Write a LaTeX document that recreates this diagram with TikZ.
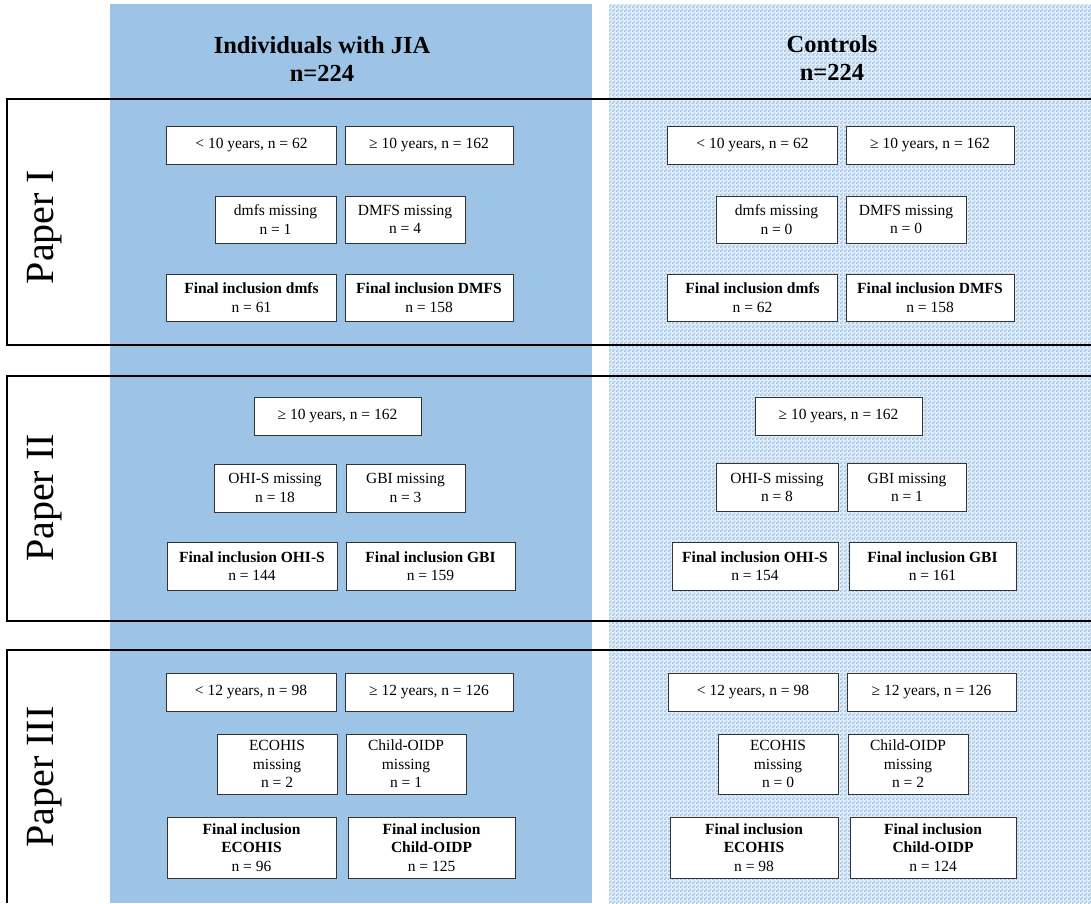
\documentclass[tikz,border=0pt]{standalone}
\usepackage{fontspec}
\setmainfont{Liberation Serif}
\usetikzlibrary{patterns}

\definecolor{jiablue}{HTML}{9DC3E6}
\definecolor{ctrldot}{HTML}{9FC4EA}
\pgfdeclarepatternformonly{ctrlchecker}{\pgfpointorigin}{\pgfqpoint{4pt}{4pt}}{\pgfqpoint{4pt}{4pt}}{%
  \pgfpathrectangle{\pgfpointorigin}{\pgfqpoint{2pt}{2pt}}%
  \pgfpathrectangle{\pgfqpoint{2pt}{2pt}}{\pgfqpoint{2pt}{2pt}}%
  \pgfusepath{fill}}

\begin{document}
\begin{tikzpicture}[x=1pt,y=-1pt,
	entry/.style={draw=black!80, line width=0.9pt, fill=white, align=center,
		inner sep=0pt, font=\fontsize{15.5}{18.5}\selectfont},
	paperframe/.style={draw, line width=2.5pt},
	papertitle/.style={rotate=90, font=\fontsize{40}{44}\selectfont},
	grouptitle/.style={align=center, font=\fontsize{24.5}{28}\selectfont\bfseries}]
			
			\useasboundingbox (0,0) rectangle (1091,903);
			
			%Columns
			\fill[jiablue] (110,4) rectangle (592,903);
			\fill[white!72!jiablue] (609,4) rectangle (1091,903);
			\fill[pattern=ctrlchecker, pattern color=ctrldot] (609,4) rectangle (1091,903);
			
			\node (jia) at (322,59) [grouptitle]{Individuals with JIA\\n=224};
			\node (controls) at (832,58) [grouptitle]{Controls\\n=224};
			
			%Paper frames
			\draw[paperframe] (1091,99) -| (7,345) -- (1091,345);
			\draw[paperframe] (1091,376) -| (7,621) -- (1091,621);
			\draw[paperframe] (1091,650) -| (7,903);
			
			\node (paper1) at (45,227) [papertitle]{Paper I};
			\node (paper2) at (45,498) [papertitle]{Paper II};
			\node (paper3) at (45,777) [papertitle]{Paper III};
			
			%First block
			\node (jia lt10) at (251.5,145) [entry, minimum width=170, minimum height=38]{< 10 years, n = 62};
			\node (jia ge10) at (429,145) [entry, minimum width=168, minimum height=38]{≥ 10 years, n = 162};
			\node (jia dmfs miss) at (275.5,219.5) [entry, minimum width=121, minimum height=47]{dmfs missing\\n = 1};
			\node (jia DMFS miss) at (405,219.5) [entry, minimum width=120, minimum height=47]{DMFS missing\\n = 4};
			\node (jia dmfs fin) at (251.5,297.5) [entry, minimum width=170, minimum height=47]{\textbf{Final inclusion dmfs}\\n = 61};
			\node (jia DMFS fin) at (429,297.5) [entry, minimum width=168, minimum height=47]{\textbf{Final inclusion DMFS}\\n = 158};
			
			\node (ctrl lt10) at (752.5,145) [entry, minimum width=170, minimum height=38]{< 10 years, n = 62};
			\node (ctrl ge10) at (930,145) [entry, minimum width=168, minimum height=38]{≥ 10 years, n = 162};
			\node (ctrl dmfs miss) at (776.5,219.5) [entry, minimum width=121, minimum height=47]{dmfs missing\\n = 0};
			\node (ctrl DMFS miss) at (906,219.5) [entry, minimum width=120, minimum height=47]{DMFS missing\\n = 0};
			\node (ctrl dmfs fin) at (752.5,297.5) [entry, minimum width=170, minimum height=47]{\textbf{Final inclusion dmfs}\\n = 62};
			\node (ctrl DMFS fin) at (930,297.5) [entry, minimum width=168, minimum height=47]{\textbf{Final inclusion DMFS}\\n = 158};
			
			%Second block
			\node (jia ge10 b) at (337.5,416) [entry, minimum width=167, minimum height=38]{≥ 10 years, n = 162};
			\node (jia ohis miss) at (275,488) [entry, minimum width=122, minimum height=48]{OHI-S missing\\n = 18};
			\node (jia gbi miss) at (405.5,488) [entry, minimum width=119, minimum height=48]{GBI missing\\n = 3};
			\node (jia ohis fin) at (252,566) [entry, minimum width=170, minimum height=48]{\textbf{Final inclusion OHI-S}\\n = 144};
			\node (jia gbi fin) at (430.5,566) [entry, minimum width=169, minimum height=48]{\textbf{Final inclusion GBI}\\n = 159};
			
			\node (ctrl ge10 b) at (838.5,416) [entry, minimum width=167, minimum height=38]{≥ 10 years, n = 162};
			\node (ctrl ohis miss) at (777,487.5) [entry, minimum width=122, minimum height=48]{OHI-S missing\\n = 8};
			\node (ctrl gbi miss) at (907,487.5) [entry, minimum width=119, minimum height=48]{GBI missing\\n = 1};
			\node (ctrl ohis fin) at (755,566) [entry, minimum width=166, minimum height=48]{\textbf{Final inclusion OHI-S}\\n = 154};
			\node (ctrl gbi fin) at (932.5,566) [entry, minimum width=167, minimum height=48]{\textbf{Final inclusion GBI}\\n = 161};
			
			%Third block
			\node (jia lt12) at (251,692) [entry, minimum width=170, minimum height=38]{< 12 years, n = 98};
			\node (jia ge12) at (429,692) [entry, minimum width=168, minimum height=38]{≥ 12 years, n = 126};
			\node (jia eco miss) at (277,764) [entry, minimum width=120, minimum height=60]{ECOHIS\\missing\\n = 2};
			\node (jia oidp miss) at (406,764) [entry, minimum width=120, minimum height=60]{Child-OIDP\\missing\\n = 1};
			\node (jia eco fin) at (251.5,847.5) [entry, minimum width=169, minimum height=61]{\textbf{Final inclusion}\\\textbf{ECOHIS}\\n = 96};
			\node (jia oidp fin) at (431.5,847.5) [entry, minimum width=167, minimum height=61]{\textbf{Final inclusion}\\\textbf{Child-OIDP}\\n = 125};
			
			\node (ctrl lt12) at (753,692) [entry, minimum width=170, minimum height=38]{< 12 years, n = 98};
			\node (ctrl ge12) at (931.5,692) [entry, minimum width=169, minimum height=38]{≥ 12 years, n = 126};
			\node (ctrl eco miss) at (778,764) [entry, minimum width=120, minimum height=60]{ECOHIS\\missing\\n = 0};
			\node (ctrl oidp miss) at (908,764) [entry, minimum width=120, minimum height=60]{Child-OIDP\\missing\\n = 2};
			\node (ctrl eco fin) at (754,847.5) [entry, minimum width=168, minimum height=61]{\textbf{Final inclusion}\\\textbf{ECOHIS}\\n = 98};
			\node (ctrl oidp fin) at (933,847.5) [entry, minimum width=166, minimum height=61]{\textbf{Final inclusion}\\\textbf{Child-OIDP}\\n = 124};
			
\end{tikzpicture}
\end{document}
